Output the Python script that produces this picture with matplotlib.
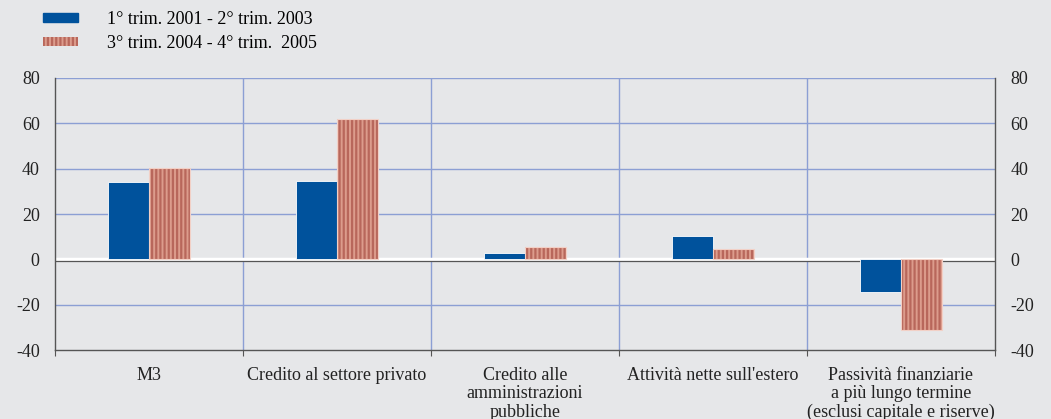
import numpy as np
import matplotlib.pyplot as plt
from matplotlib.patches import Patch

plt.rcParams['font.family'] = ['Liberation Serif', 'DejaVu Serif']
plt.rcParams['axes.unicode_minus'] = False
plt.rcParams['hatch.linewidth'] = 1.6

categorie = ["M3", "Credito al settore privato", "Credito alle\namministrazioni\npubbliche",
             "Attività nette sull'estero",
             "Passività finanziarie\na più lungo termine\n(esclusi capitale e riserve)"]
periodo1 = [34, 34.5, 2.8, 10.2, -14.5]
periodo2 = [40.3, 62, 5.6, 4.5, -31]
etichette = ["1° trim. 2001 - 2° trim. 2003", "3° trim. 2004 - 4° trim.  2005"]

bg = '#e6e7e9'
blu = '#00529c'
rosso = '#dc9c8c'
grid_c = '#8c9fd4'

fig = plt.figure(figsize=(10.51, 4.19), dpi=100, facecolor=bg)
ax = fig.add_axes([55/1051, 1-350/419, 940/1051, 272/419])
ax.set_facecolor(bg)

x = np.arange(len(categorie))
w = 0.218
ax.bar(x - w/2 - 0.002, periodo1, w, color=blu, edgecolor='white', linewidth=0.6, zorder=3)
ax.bar(x + w/2 + 0.002, periodo2, w, color=rosso, edgecolor='#b8675b', hatch='||||',
       linewidth=0, zorder=3)
ax.bar(x + w/2 + 0.002, periodo2, w, fill=False, edgecolor='#f2d0c6', linewidth=0.8, zorder=4)

ax.set_xlim(-0.5, 4.5)
ax.set_ylim(-40, 80)
ax.set_yticks(range(-40, 81, 20))
for y in range(-20, 81, 20):
    if y != 0:
        ax.axhline(y, color=grid_c, lw=1, zorder=1)
for xv in np.arange(0.5, 4.5, 1):
    ax.axvline(xv, color=grid_c, lw=1, zorder=1)
ax.axhline(0, color='white', lw=2.5, zorder=2)
ax.axhline(-0.6, color='#555555', lw=0.9, zorder=2)

ax.spines['top'].set_visible(False)
for s in ['left', 'right', 'bottom']:
    ax.spines[s].set_color('#555555')
    ax.spines[s].set_linewidth(1.0)

ax.tick_params(axis='y', length=0, labelsize=13, pad=11, labelright=True, right=False,
               colors='#222222')
ax.set_xticks(np.arange(-0.5, 4.6, 1))
ax.set_xticklabels([])
ax.tick_params(axis='x', length=4, direction='out', color='#555555')
for i, c in enumerate(categorie):
    ax.text(i, -47.5, c, ha='center', va='top', fontsize=13, linespacing=1.1, color='#222222')

handles = [Patch(facecolor=blu, edgecolor=blu),
           Patch(facecolor=rosso, edgecolor='#b8675b', hatch='||||', linewidth=0)]
fig.legend(handles, etichette, loc='upper left', bbox_to_anchor=(43/1051, 1-11/419), frameon=False,
           fontsize=13, handlelength=1.95, handleheight=0.45, handletextpad=1.6, labelspacing=0.38,
           borderpad=0, borderaxespad=0)

fig.savefig('out.png', dpi=100, facecolor=bg)
